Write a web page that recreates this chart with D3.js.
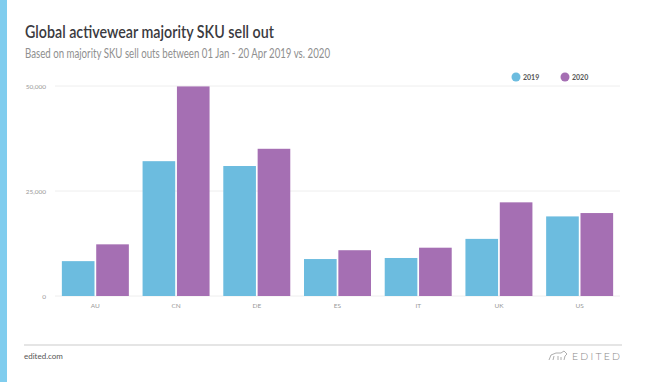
<!DOCTYPE html>
<html><head><meta charset="utf-8">
<script src="https://cdn.jsdelivr.net/npm/d3@7/dist/d3.min.js"></script>
<style>body{margin:0;background:#fff;}svg{display:block;font-family:Lato,"Noto Sans",sans-serif;}</style>
</head><body>
<script>
const categories = ["AU","CN","DE","ES","IT","UK","US"];
const seriesNames = ["2019","2020"];
const values2019 = [8300,32100,30950,8800,9050,13600,18950];
const values2020 = [12300,49900,35050,10900,11500,22300,19750];
const yTicks = [0,25000,50000];
const colors = ["#6cbcdf","#a56fb3"];

const W=650,H=382;
const svg=d3.select("body").append("svg").attr("width",W).attr("height",H);
svg.append("rect").attr("x",0).attr("y",0).attr("width",7).attr("height",H).attr("fill","#80cdee");

svg.append("text").attr("x",25).attr("y",38).attr("font-size",17.5).attr("font-weight",600)
  .attr("fill","#3a3a40").attr("textLength",249).attr("lengthAdjust","spacingAndGlyphs")
  .text("Global activewear majority SKU sell out");
svg.append("text").attr("x",25).attr("y",58).attr("font-size",12.5).attr("font-weight",400)
  .attr("fill","#8f8f8f").attr("textLength",305).attr("lengthAdjust","spacingAndGlyphs")
  .text("Based on majority SKU sell outs between 01 Jan - 20 Apr 2019 vs. 2020");

const x=d3.scaleBand().domain(categories).range([55,620]).paddingInner(0.17).paddingOuter(0.085);
const xs=d3.scaleBand().domain(seriesNames).range([0,x.bandwidth()]).paddingInner(0.05);
const y=d3.scaleLinear().domain([0,50000]).range([296,86]);

const grid=svg.append("g");
grid.selectAll("line").data(yTicks).join("line")
  .attr("x1",55).attr("x2",620).attr("y1",d=>y(d)).attr("y2",d=>y(d))
  .attr("stroke","#eeeeee").attr("stroke-width",1);

const yAxis=svg.append("g").attr("transform","translate(49,0)")
  .call(d3.axisLeft(y).tickValues(yTicks).tickSize(0).tickFormat(d3.format(",")));
yAxis.select(".domain").remove();
yAxis.selectAll("text").attr("font-size",6.5).attr("fill","#999").attr("font-family","Lato,sans-serif");

const rows=categories.map((c,i)=>({c,v:[values2019[i],values2020[i]]}));
const g=svg.append("g");
g.selectAll("g").data(rows).join("g").attr("transform",d=>`translate(${x(d.c)},0)`)
  .selectAll("rect").data(d=>d.v.map((v,j)=>({s:seriesNames[j],v,j}))).join("rect")
  .attr("x",d=>xs(d.s)).attr("width",xs.bandwidth())
  .attr("y",d=>y(d.v)).attr("height",d=>y(0)-y(d.v)).attr("fill",d=>colors[d.j]);

const xAxis=svg.append("g").attr("transform","translate(0,300)")
  .call(d3.axisBottom(x).tickSize(0));
xAxis.select(".domain").remove();
xAxis.selectAll("text").attr("font-size",6.5).attr("fill","#999").attr("font-family","Lato,sans-serif");

// legend
const lx=[516,565];
const lg=svg.append("g");
seriesNames.forEach((s,i)=>{
  lg.append("circle").attr("cx",lx[i]).attr("cy",77).attr("r",4.5).attr("fill",colors[i]);
  lg.append("text").attr("x",lx[i]+7).attr("y",79.5).attr("font-size",7).attr("fill","#555").attr("font-weight",700).text(s);
});

// footer
svg.append("line").attr("x1",24).attr("x2",622).attr("y1",345).attr("y2",345).attr("stroke","#cccccc").attr("stroke-width",1.2);
svg.append("text").attr("x",24).attr("y",359).attr("font-size",8).attr("fill","#555").text("edited.com");
svg.append("text").attr("x",572).attr("y",360).attr("font-size",10.5)
  .attr("fill","#888").attr("font-weight",300).attr("textLength",48).attr("lengthAdjust","spacing").text("EDITED");
// small bear-like logo mark
const lgm=svg.append("g").attr("transform","translate(549,351)").attr("fill","none").attr("stroke","#999").attr("stroke-width",0.8);
lgm.append("path").attr("d","M0,9 L2,4 L7,2 L12,2 L15,0 L18,3 L16,5 L15,9 M4,9 L5,5 M9,9 L9,5 M12,9 L12,6");
</script>
</body></html>
